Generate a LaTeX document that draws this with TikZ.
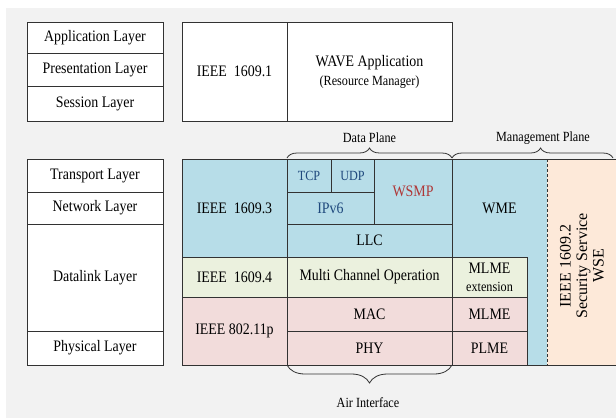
\documentclass[tikz,border=0pt]{standalone}
\usepackage{fontspec}
\setmainfont[FakeStretch=0.87]{Liberation Serif}
\newfontfamily\rotfont{Liberation Serif}
\usetikzlibrary{decorations.pathreplacing,calc}
\definecolor{wsablue}{RGB}{183,221,232}
\definecolor{wsagreen}{RGB}{235,241,222}
\definecolor{wsapink}{RGB}{242,220,219}
\definecolor{wsapeach}{RGB}{253,233,217}
\definecolor{bggray}{RGB}{242,242,242}
\definecolor{linegray}{RGB}{50,50,50}
\definecolor{txtblue}{RGB}{31,73,125}
\definecolor{txtred}{RGB}{175,55,55}
\tikzset{
	cell/.style 2 args={draw=linegray,line width=0.8pt,anchor=north west,minimum width=#1,minimum height=#2,inner sep=0pt,outer sep=0pt,align=center},
	smalltext/.style={font=\fontsize{14}{15}\selectfont},
	planebrace/.style 2 args={decorate,decoration={brace,amplitude=#1,aspect=#2},draw=linegray,line width=0.8pt}
}
\begin{document}
\begin{tikzpicture}[x=1pt,y=-1pt,font=\fontsize{16}{19}\selectfont]
	\useasboundingbox (0,0) rectangle (616,418);
	\fill [bggray] (6,8) rectangle (616,418);

	% OSI layers
	\node [cell={136}{31},fill=white] (app) at (27,22) {Application Layer};
	\node [cell={136}{33},fill=white] (pres) at (27,53) {Presentation Layer};
	\node [cell={136}{35},fill=white] (sess) at (27,86) {Session Layer};

	\node [cell={136}{33},fill=white] (trans) at (27,159) {Transport Layer};
	\node [cell={136}{32},fill=white] (net) at (27,192) {Network Layer};
	\node [cell={136}{107},fill=white] (dlink) at (27,224) {Datalink Layer};
	\node [cell={136}{34},fill=white] (phys) at (27,331) {Physical Layer};

	% WAVE upper part
	\node [cell={105}{99},fill=white] (ieeeone) at (182,22) {IEEE\ \ 1609.1};
	\node [cell={165}{99},fill=white] (wave) at (287,22) {WAVE Application\\{\fontsize{14}{15}\selectfont (Resource Manager)}};

	% management side
	\node [cell={95}{206},fill=wsablue,draw=none] (wme) at (452,159) {};
	\node [cell={69}{206},fill=wsapeach,draw=none] (wse) at (547,159) {};

	% WAVE lower part
	\node [cell={105}{98},fill=wsablue] (ieeethree) at (182,159) {IEEE\ \ 1609.3};
	\node [cell={44}{33},fill=wsablue,smalltext,text=txtblue] (tcp) at (287,159) {TCP};
	\node [cell={43}{33},fill=wsablue,smalltext,text=txtblue] (udp) at (331,159) {UDP};
	\node [cell={78}{65},fill=wsablue,text=txtred] (wsmp) at (374,159) {WSMP};
	\node [cell={87}{32},fill=wsablue,text=txtblue] (ipv6) at (287,192) {IPv6};
	\node [cell={165}{33},fill=wsablue] (llc) at (287,224) {LLC};

	\node [cell={105}{40},fill=wsagreen] (ieeefour) at (182,257) {IEEE\ \ 1609.4};
	\node [cell={165}{40},fill=wsagreen] (mco) at (287,257) {Multi Channel Operation};
	\node [cell={75}{40},fill=wsagreen] (mlmeext) at (452,257) {MLME\\[-1pt]{\fontsize{14}{15}\selectfont extension}};

	\node [cell={105}{68},fill=wsapink] (ieeep) at (182,297) {IEEE 802.11p};
	\node [cell={165}{34},fill=wsapink] (mac) at (287,297) {MAC};
	\node [cell={165}{34},fill=wsapink] (phy) at (287,331) {PHY};
	\node [cell={75}{34},fill=wsapink] (mlme) at (452,297) {MLME};
	\node [cell={75}{34},fill=wsapink] (plme) at (452,331) {PLME};

	\node (wmetxt) at (wme.center |- ipv6) {WME};
	\node [rotate=90,align=center,font=\rotfont\fontsize{16}{16.5}\selectfont] (wsetxt) at (582,266) {IEEE 1609.2\\Security Service\\WSE};

	\draw [linegray,line width=0.8pt] (ieeethree.north west) rectangle (wse.south east);
	\draw [linegray,line width=0.8pt] (wme.north west) -- (wme.south west);
	\draw [linegray,line width=0.6pt,dash pattern=on 3pt off 2pt] (wse.north west) -- (wse.south west);

	% planes
	\coordinate (mgend) at (613,159);
	\draw [planebrace={10pt}{0.5}] ([yshift=1pt]tcp.north west) -- ([yshift=1pt]wsmp.north east);
	\draw [planebrace={10pt}{0.55}] ([yshift=1pt]wme.north west) -- ([yshift=1pt]mgend);
	\draw [planebrace={18pt}{0.5}] (phy.south east) -- (phy.south west);

	\node [smalltext] (dplane) at (369.5,138) {Data Plane};
	\node [smalltext] (mplane) at (543,138) {Management Plane};
	\node [smalltext] (air) at (368,403) {Air Interface};
\end{tikzpicture}
\end{document}
